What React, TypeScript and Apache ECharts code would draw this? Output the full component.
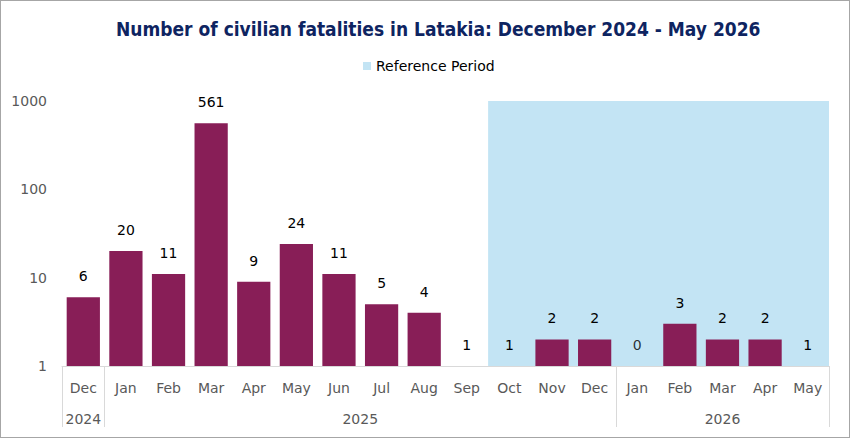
import React, { useEffect, useRef } from "react";
import * as echarts from "echarts";

// Monthly civilian fatalities, Dec 2024 – May 2026
const MONTHS = ["Dec", "Jan", "Feb", "Mar", "Apr", "May", "Jun", "Jul", "Aug", "Sep", "Oct", "Nov", "Dec", "Jan", "Feb", "Mar", "Apr", "May"];
const FATALITIES = [6, 20, 11, 561, 9, 24, 11, 5, 4, 1, 1, 2, 2, 0, 3, 2, 2, 1];
const YEAR_GROUPS = [
  { year: "2024", count: 1 },
  { year: "2025", count: 12 },
  { year: "2026", count: 5 },
];
// Reference period runs from Oct 2025 to the end of the series
const REFERENCE_START = 10;
const Y_TICKS = [1, 10, 100, 1000];

const BAR_COLOR = "#881E57";
const REF_COLOR = "#C3E4F4";
const AXIS_GRAY = "#D9D9D9";
const LABEL_GRAY = "#595959";
const FONT = "DejaVu Sans";

export default function App() {
  const ref = useRef<HTMLDivElement>(null);

  useEffect(() => {
    if (!ref.current) return;
    const chart = echarts.init(ref.current, null, { renderer: "svg" });

    const yMin = Y_TICKS[0];
    const yMax = Y_TICKS[Y_TICKS.length - 1];

    // Year axis uses half-month slots so labels sit at group centres
    // and separators fall exactly on month boundaries
    const yearSlots: string[] = [];
    for (let i = 0; i <= MONTHS.length * 2; i++) yearSlots.push(String(i));
    const yearLabelAt: Record<number, string> = {};
    const boundaries = new Set<number>();
    let start = 0;
    YEAR_GROUPS.forEach((g) => {
      yearLabelAt[2 * start + g.count] = g.year;
      boundaries.add(2 * start);
      boundaries.add(2 * (start + g.count));
      start += g.count;
    });

    // Zero months have no bar on a log scale; their label sits on the axis floor
    const zeroLabels = FATALITIES.map((v, i) => (v <= 0 ? { value: [i, yMin], count: v } : null)).filter(Boolean);

    const labelStyle = {
      fontFamily: FONT,
      fontSize: 14,
      color: "#000",
    };

    chart.setOption({
      animation: false,
      title: {
        text: "Number of civilian fatalities in Latakia: December 2024 - May 2026",
        left: 110,
        top: 13,
        textStyle: { fontFamily: "DejaVu Sans Condensed", fontWeight: "bold", fontSize: 19, color: "#0E2461" },
      },
      legend: {
        data: ["Reference Period"],
        top: 53,
        left: 357,
        icon: "rect",
        itemWidth: 8,
        itemHeight: 8,
        itemGap: 6,
        textStyle: { fontFamily: FONT, fontSize: 14, color: "#000" },
      },
      grid: { left: 61, right: 20, top: 100, bottom: 71 },
      xAxis: [
        {
          type: "category",
          data: MONTHS,
          position: "bottom",
          axisLine: { show: true, lineStyle: { color: AXIS_GRAY, width: 1 } },
          axisTick: { show: false },
          axisLabel: { interval: 0, margin: 15, fontFamily: FONT, fontSize: 14, color: LABEL_GRAY },
          z: 5,
        },
        {
          type: "category",
          data: yearSlots,
          position: "bottom",
          boundaryGap: false,
          axisLine: { show: false },
          axisTick: {
            show: true,
            interval: (i: number) => boundaries.has(i),
            length: 61,
            lineStyle: { color: AXIS_GRAY, width: 1 },
          },
          axisLabel: {
            interval: (i: number) => yearLabelAt[i] !== undefined,
            formatter: (_v: string, i: number) => yearLabelAt[i] ?? "",
            margin: 46,
            fontFamily: FONT,
            fontSize: 14,
            color: LABEL_GRAY,
          },
        },
      ],
      yAxis: {
        type: "log",
        logBase: 10,
        min: yMin,
        max: yMax,
        axisLine: { show: false },
        axisTick: { show: false },
        splitLine: { show: false },
        axisLabel: {
          margin: 15,
          fontFamily: FONT,
          fontSize: 14,
          color: LABEL_GRAY,
          formatter: (v: number) => String(Math.round(v)),
        },
      },
      series: [
        {
          name: "Reference Period",
          type: "line",
          xAxisIndex: 1,
          data: [],
          itemStyle: { color: REF_COLOR },
          lineStyle: { color: REF_COLOR },
          markArea: {
            silent: true,
            itemStyle: { color: REF_COLOR, opacity: 1 },
            data: [
              [
                { xAxis: String(REFERENCE_START * 2), yAxis: yMin },
                { xAxis: String(MONTHS.length * 2), yAxis: yMax },
              ],
            ],
          },
          z: 1,
        },
        {
          name: "Civilian fatalities",
          type: "bar",
          xAxisIndex: 0,
          data: FATALITIES,
          barCategoryGap: "22%",
          itemStyle: { color: BAR_COLOR },
          label: { show: true, position: "top", distance: 14, ...labelStyle },
          z: 3,
        },
        {
          name: "Zero months",
          type: "scatter",
          xAxisIndex: 0,
          symbolSize: 0,
          data: zeroLabels,
          silent: true,
          label: {
            show: true,
            position: "top",
            distance: 14,
            ...labelStyle,
            formatter: (p: any) => String(p.data.count),
          },
          z: 4,
        },
      ],
    });

    return () => chart.dispose();
  }, []);

  return (
    <div
      style={{
        position: "fixed",
        left: 0,
        top: 0,
        width: 848,
        height: 436,
        border: "1px solid #A6A6A6",
        background: "#fff",
      }}
    >
      <div ref={ref} style={{ width: 848, height: 436 }} />
    </div>
  );
}
